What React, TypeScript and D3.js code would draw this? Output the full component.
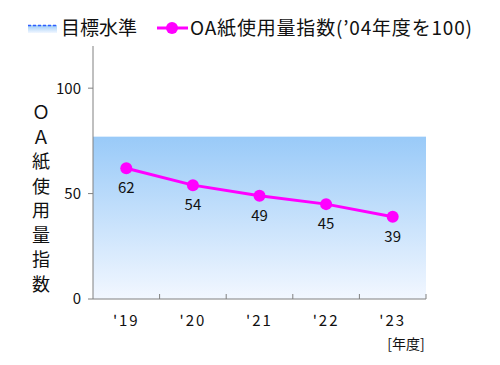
import React, { useEffect, useRef } from 'react';
import * as d3 from 'd3';

// data
const years = ["'19", "'20", "'21", "'22", "'23"];
const indexValues = [62, 54, 49, 45, 39];
const targetLevel = 77;
const yTicks = [0, 50, 100];
const yTitleChars = ['Ｏ', 'Ａ', '紙', '使', '用', '量', '指', '数'];

const FONT = '"Noto Sans CJK JP", "Noto Sans", sans-serif';

const App = () => {
  const svgRef = useRef<SVGSVGElement>(null);

  useEffect(() => {
    if (!svgRef.current) return;
    d3.select(svgRef.current).selectAll('*').remove();

    const width = 500;
    const height = 365;
    const margin = { top: 46, right: 74, bottom: 66, left: 93 };
    const chartWidth = width - margin.left - margin.right;
    const chartHeight = height - margin.top - margin.bottom;

    const svg = d3.select(svgRef.current)
      .attr('width', width)
      .attr('height', height)
      .style('font-family', FONT);

    const defs = svg.append('defs');
    const grad = defs.append('linearGradient')
      .attr('id', 'targetGrad')
      .attr('x1', 0).attr('y1', 0).attr('x2', 0).attr('y2', 1);
    grad.append('stop').attr('offset', '0%').attr('stop-color', '#99caf8');
    grad.append('stop').attr('offset', '100%').attr('stop-color', '#f2f7ff');

    const g = svg.append('g')
      .attr('transform', `translate(${margin.left},${margin.top})`);

    // Scales
    const xScale = d3.scaleBand()
      .domain(years)
      .range([0, chartWidth])
      .padding(0);

    const yScale = d3.scaleLinear()
      .domain([0, 120])
      .range([chartHeight, 0]);

    // Target area
    g.append('rect')
      .attr('x', 0)
      .attr('y', yScale(targetLevel))
      .attr('width', chartWidth)
      .attr('height', chartHeight - yScale(targetLevel))
      .attr('fill', 'url(#targetGrad)');

    // Axes
    g.append('line')
      .attr('x1', 0).attr('x2', 0)
      .attr('y1', 0).attr('y2', chartHeight)
      .attr('stroke', '#808080');
    g.append('line')
      .attr('x1', 0).attr('x2', chartWidth)
      .attr('y1', chartHeight).attr('y2', chartHeight)
      .attr('stroke', '#808080');

    g.selectAll('.ytick')
      .data(yTicks)
      .join('line')
      .attr('class', 'ytick')
      .attr('x1', -5).attr('x2', 0)
      .attr('y1', d => yScale(d)).attr('y2', d => yScale(d))
      .attr('stroke', '#808080');

    g.selectAll('.ylabel')
      .data(yTicks)
      .join('text')
      .attr('class', 'ylabel')
      .attr('x', -12)
      .attr('y', d => yScale(d))
      .attr('dy', '0.36em')
      .attr('text-anchor', 'end')
      .style('font-size', '15px')
      .style('fill', '#111')
      .text(d => d);

    g.selectAll('.xtick')
      .data(years)
      .join('line')
      .attr('class', 'xtick')
      .attr('x1', d => (xScale(d) as number) + xScale.bandwidth())
      .attr('x2', d => (xScale(d) as number) + xScale.bandwidth())
      .attr('y1', chartHeight - 5).attr('y2', chartHeight)
      .attr('stroke', '#808080');

    g.selectAll('.xlabel')
      .data(years)
      .join('text')
      .attr('class', 'xlabel')
      .attr('x', d => (xScale(d) as number) + xScale.bandwidth() / 2)
      .attr('y', chartHeight + 27)
      .attr('text-anchor', 'middle')
      .style('font-size', '15px')
      .style('letter-spacing', '2px')
      .style('fill', '#111')
      .text(d => d);

    svg.append('text')
      .attr('x', 406)
      .attr('y', 349)
      .attr('text-anchor', 'middle')
      .style('font-size', '14px')
      .style('fill', '#111')
      .text('[年度]');

    // Y title, stacked vertically
    svg.selectAll('.ytitle')
      .data(yTitleChars)
      .join('text')
      .attr('class', 'ytitle')
      .attr('x', 41)
      .attr('y', (d, i) => 113 + i * 24.5)
      .attr('dy', '0.36em')
      .attr('text-anchor', 'middle')
      .style('font-size', '18px')
      .style('fill', '#111')
      .text(d => d);

    // Line
    const line = d3.line<number>()
      .x((d, i) => (xScale(years[i]) as number) + xScale.bandwidth() / 2)
      .y(d => yScale(d));

    g.append('path')
      .datum(indexValues)
      .attr('d', line)
      .attr('fill', 'none')
      .attr('stroke', '#ff00ff')
      .attr('stroke-width', 3);

    g.selectAll('.dot')
      .data(indexValues)
      .join('circle')
      .attr('class', 'dot')
      .attr('cx', (d, i) => (xScale(years[i]) as number) + xScale.bandwidth() / 2)
      .attr('cy', d => yScale(d))
      .attr('r', 6)
      .attr('fill', '#ff00ff');

    g.selectAll('.vlabel')
      .data(indexValues)
      .join('text')
      .attr('class', 'vlabel')
      .attr('x', (d, i) => (xScale(years[i]) as number) + xScale.bandwidth() / 2)
      .attr('y', d => yScale(d) + 25)
      .attr('text-anchor', 'middle')
      .style('font-size', '15px')
      .style('fill', '#111')
      .text(d => d);

    // Legend
    const legend = svg.append('g');
    legend.append('rect')
      .attr('x', 28).attr('y', 25)
      .attr('width', 29).attr('height', 8)
      .attr('fill', 'url(#targetGrad)');
    legend.append('line')
      .attr('x1', 28).attr('x2', 57)
      .attr('y1', 25.5).attr('y2', 25.5)
      .attr('stroke', '#2f5cff')
      .attr('stroke-width', 1.5)
      .attr('stroke-dasharray', '3,2');
    legend.append('text')
      .attr('x', 61).attr('y', 28)
      .attr('dy', '0.36em')
      .style('font-size', '19px')
      .style('fill', '#111')
      .text('目標水準');

    legend.append('line')
      .attr('x1', 157).attr('x2', 188)
      .attr('y1', 28).attr('y2', 28)
      .attr('stroke', '#ff00ff')
      .attr('stroke-width', 3);
    legend.append('circle')
      .attr('cx', 172).attr('cy', 28)
      .attr('r', 6)
      .attr('fill', '#ff00ff');
    legend.append('text')
      .attr('x', 190).attr('y', 28)
      .attr('dy', '0.36em')
      .attr('textLength', 282)
      .style('font-size', '19px')
      .style('fill', '#111')
      .text('OA紙使用量指数(\u201904年度を100)');
  }, []);

  return <svg ref={svgRef} style={{ display: 'block', position: 'absolute', left: 0, top: 0 }} />;
};

export default App;
